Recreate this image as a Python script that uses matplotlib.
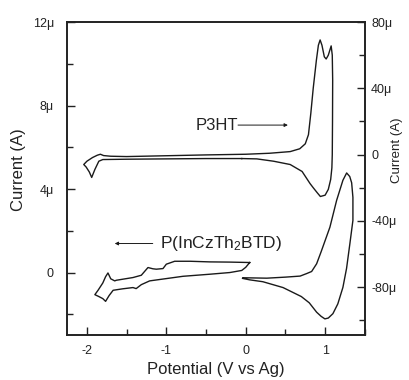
import matplotlib
matplotlib.use("Agg")
import matplotlib.pyplot as plt
from matplotlib.ticker import MultipleLocator, FuncFormatter

plt.rcParams['font.family'] = ['Liberation Sans', 'DejaVu Sans']
plt.rcParams['mathtext.fontset'] = 'custom'
plt.rcParams['mathtext.rm'] = 'Liberation Sans'

# P3HT cyclic voltammogram (right axis, current in uA)
p3ht_v = [-0.05, -0.5, -1.0, -1.5, -1.80, -1.85, -1.90, -1.94, -1.97, -2.01, -2.04,
          -2.00, -1.93, -1.87, -1.83, -1.79, -1.70, -1.5, -1.0, -0.5, 0.0, 0.3,
          0.56, 0.68, 0.75, 0.79, 0.82, 0.85, 0.89, 0.915, 0.937, 0.96, 0.99,
          1.013, 1.04, 1.076, 1.09, 1.095, 1.093, 1.09, 1.085, 1.07, 1.04, 1.0,
          0.94, 0.90, 0.85, 0.81, 0.71, 0.56, 0.35, 0.14, -0.05]
p3ht_i = [-2.4, -2.4, -2.6, -2.8, -3.0, -4.0, -9.0, -13.8, -10.5, -7.5, -6.0,
          -4.0, -1.8, -0.4, 0.2, -0.6, -1.0, -1.2, -0.7, -0.2, 0.2, 0.8,
          1.8, 3.5, 6.5, 12.0, 25.0, 40.0, 57.0, 66.0, 69.2, 66.0, 59.0,
          57.7, 60.0, 65.6, 60.0, 45.0, 20.0, 0.0, -8.0, -15.0, -21.0, -24.5,
          -25.3, -23.0, -20.0, -17.5, -10.2, -6.0, -4.0, -2.6, -2.4]

# P(InCzTh2BTD), negative scan (left axis, current in uA)
pin_neg_v = [0.05, 0.0, -0.05, -0.2, -0.45, -0.79, -1.0, -1.21, -1.315, -1.38,
             -1.42, -1.55, -1.67, -1.72, -1.765, -1.80, -1.85, -1.90, -1.86,
             -1.80, -1.765, -1.735, -1.70, -1.65, -1.63, -1.42, -1.315, -1.231,
             -1.17, -1.126, -1.042, -1.0, -0.895, -0.7, -0.454, -0.2, 0.05]
pin_neg_i = [0.48, 0.25, 0.1, 0.0, -0.08, -0.18, -0.29, -0.4, -0.58, -0.77,
             -0.72, -0.78, -0.85, -1.1, -1.38, -1.25, -1.15, -1.06, -0.85,
             -0.5, -0.2, -0.02, -0.3, -0.4, -0.37, -0.24, -0.13, 0.24,
             0.18, 0.16, 0.19, 0.4, 0.54, 0.54, 0.51, 0.5, 0.48]

# P(InCzTh2BTD), positive scan
pin_pos_v = [-0.033, 0.265, 0.5, 0.685, 0.767, 0.83, 0.893, 0.95, 1.06, 1.145,
             1.224, 1.271, 1.31, 1.334, 1.35, 1.35, 1.312, 1.27, 1.224, 1.16,
             1.098, 1.04, 0.997, 0.95, 0.893, 0.80, 0.70, 0.47, 0.216, 0.05, -0.04]
pin_pos_i = [-0.25, -0.27, -0.22, -0.17, -0.05, 0.05, 0.42, 1.0, 2.17, 3.46,
             4.42, 4.77, 4.6, 4.3, 3.6, 2.5, 1.39, 0.2, -0.71, -1.5,
             -1.97, -2.18, -2.22, -2.1, -1.9, -1.45, -1.15, -0.72, -0.44, -0.35, -0.28]


def micro(v, pos):
    if abs(v) < 1e-9:
        return "0"
    return "%gμ" % v


fig = plt.figure(figsize=(4.09, 3.80), dpi=100)
ax = fig.add_axes([0.164, 0.118, 0.728, 0.824])
ax2 = ax.twinx()

col = '#1a1a1a'
tc = '#222222'
ax.plot(pin_neg_v, pin_neg_i, color=col, lw=1.0)
ax.plot(pin_pos_v, pin_pos_i, color=col, lw=1.0)
ax2.plot(p3ht_v, p3ht_i, color=col, lw=1.0)

ax.set_xlim(-2.25, 1.5)
ax.set_ylim(-3, 12)
ax2.set_ylim(-109, 80)

ax.xaxis.set_major_locator(MultipleLocator(1))
ax.xaxis.set_minor_locator(MultipleLocator(0.5))
ax.yaxis.set_major_locator(MultipleLocator(4))
ax.yaxis.set_minor_locator(MultipleLocator(2))
ax2.yaxis.set_major_locator(MultipleLocator(40))
ax2.yaxis.set_minor_locator(MultipleLocator(20))
ax.yaxis.set_major_formatter(FuncFormatter(micro))
ax2.yaxis.set_major_formatter(FuncFormatter(micro))
ax.xaxis.set_major_formatter(FuncFormatter(lambda v, p: "%d" % round(v)))

for a in (ax, ax2):
    a.tick_params(which='both', direction='in', labelsize=9, width=1.0, colors=tc)
    a.tick_params(which='major', length=5.5)
    a.tick_params(which='minor', length=4)
    for s in a.spines.values():
        s.set_linewidth(1.2)
        s.set_color(tc)
ax.tick_params(axis='both', top=False, right=False, which='both')
ax.tick_params(axis='x', pad=7)
ax.tick_params(axis='y', pad=9.5)
ax2.tick_params(axis='y', pad=4.5)

ax.set_xlabel("Potential (V vs Ag)", fontsize=12, color=tc, labelpad=3.5)
ax.set_ylabel("Current (A)", fontsize=12, color=tc)
ax2.set_ylabel("Current (A)", fontsize=9.5, color=tc)
ax.yaxis.label.set_va('center')
ax2.yaxis.label.set_va('center')
ax.yaxis.set_label_coords(-0.164, 0.53)
ax2.yaxis.set_label_coords(1.107, 0.59)

ax2.annotate("", xy=(0.531, 17.8), xytext=(-0.097, 17.8),
             arrowprops=dict(arrowstyle='-|>', color=col, lw=0.7, mutation_scale=5,
                             shrinkA=0, shrinkB=0))
ax2.text(-0.097, 17.8, "P3HT", ha='right', va='center', fontsize=12, color=tc)

ax.annotate("", xy=(-1.65, 1.39), xytext=(-1.171, 1.39),
            arrowprops=dict(arrowstyle='-|>', color=col, lw=0.7, mutation_scale=5,
                            shrinkA=0, shrinkB=0))
ax.text(-1.083, 1.39, "P(InCzTh$\\mathregular{_2}$BTD)", ha='left', va='center',
        fontsize=12.5, color=tc)

fig.savefig("out.png", dpi=100)
